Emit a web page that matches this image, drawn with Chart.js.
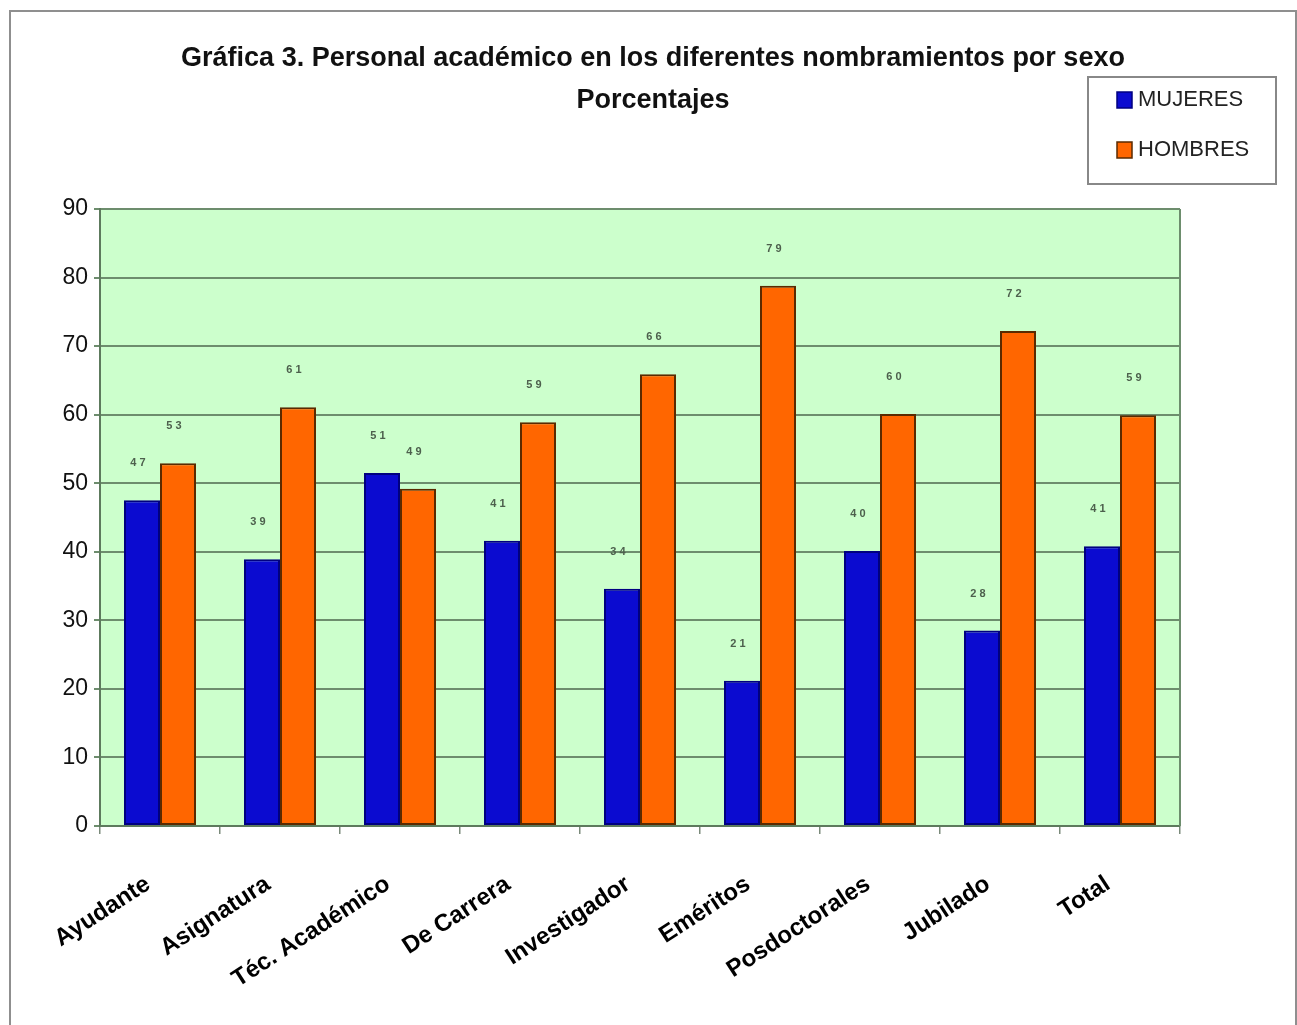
<!DOCTYPE html>
<html>
<head>
<meta charset="utf-8">
<script src="https://cdn.jsdelivr.net/npm/chart.js@4.4.1/dist/chart.umd.min.js"></script>
<style>
  html, body { margin: 0; padding: 0; background: #fff; }
  #wrap { width: 1297px; height: 1025px; position: relative; }
</style>
</head>
<body>
<div id="wrap"><canvas id="canvas" width="1297" height="1025"></canvas></div>
<script>
var titulo = 'Gráfica 3. Personal académico en los diferentes nombramientos por sexo';
var subtitulo = 'Porcentajes';
var categorias = ['Ayudante', 'Asignatura', 'Téc. Académico', 'De Carrera', 'Investigador', 'Eméritos', 'Posdoctorales', 'Jubilado', 'Total'];
var mujeres = [47.5, 38.9, 51.5, 41.6, 34.6, 21.2, 40.1, 28.5, 40.8];
var hombres = [52.9, 61.1, 49.2, 58.9, 65.9, 78.8, 60.1, 72.2, 59.9];
var etiquetasMujeres = ['47', '39', '51', '41', '34', '21', '40', '28', '41'];
var etiquetasHombres = ['53', '61', '49', '59', '66', '79', '60', '72', '59'];
var ticksY = [0, 10, 20, 30, 40, 50, 60, 70, 80, 90];

// fondo verde, marco, titulo, leyenda y etiquetas de valores
var decoracion = {
  id: 'decoracion',
  beforeDraw: function(chart) {
    var ctx = chart.ctx, a = chart.chartArea;
    ctx.save();
    ctx.fillStyle = '#fff';
    ctx.fillRect(0, 0, chart.width, chart.height);
    ctx.strokeStyle = '#8f8f8f';
    ctx.lineWidth = 2;
    ctx.strokeRect(10, 11, 1286, 1040);
    ctx.fillStyle = '#ccffcc';
    ctx.fillRect(a.left, a.top, a.right - a.left, a.bottom - a.top);
    ctx.restore();
  },
  afterDraw: function(chart) {
    var ctx = chart.ctx, a = chart.chartArea;
    ctx.save();
    ctx.strokeStyle = '#6d8d6d';
    ctx.lineWidth = 2;
    ctx.beginPath();
    ctx.moveTo(a.right, a.top);
    ctx.lineTo(a.right, a.bottom);
    ctx.stroke();
    // titulo
    ctx.fillStyle = '#111';
    ctx.textAlign = 'center';
    ctx.textBaseline = 'middle';
    ctx.font = 'bold 27px "Liberation Sans", Arial';
    ctx.fillText(titulo, 653, 59);
    ctx.fillText(subtitulo, 653, 101);
    // leyenda
    ctx.textAlign = 'left';
    ctx.fillStyle = '#fff';
    ctx.fillRect(1088, 77, 188, 107);
    ctx.strokeStyle = '#888';
    ctx.lineWidth = 2;
    ctx.strokeRect(1088, 77, 188, 107);
    ctx.font = '22px "Liberation Sans", Arial';
    chart.data.datasets.forEach(function(ds, i) {
      var y = 100 + i * 50;
      ctx.fillStyle = ds.backgroundColor;
      ctx.fillRect(1117, y - 8, 15, 16);
      ctx.strokeStyle = ds.borderColor;
      ctx.lineWidth = 1.5;
      ctx.strokeRect(1117, y - 8, 15, 16);
      ctx.fillStyle = '#222';
      ctx.fillText(ds.label, 1138, y);
    });
    // etiquetas de valores
    ctx.font = 'bold 11px "Liberation Sans", Arial';
    ctx.fillStyle = '#4d604d';
    ctx.textAlign = 'center';
    var textos = [etiquetasMujeres, etiquetasHombres];
    chart.data.datasets.forEach(function(ds, i) {
      chart.getDatasetMeta(i).data.forEach(function(bar, j) {
        ctx.fillText(textos[i][j].split('').join(' '), bar.x - 4, bar.y - 37);
      });
    });
    ctx.restore();
  }
};

var data = {
  labels: categorias,
  datasets: [{
    label: 'MUJERES',
    data: mujeres,
    backgroundColor: '#0b0bd0',
    borderColor: '#000080',
    borderWidth: 2,
    borderSkipped: false
  }, {
    label: 'HOMBRES',
    data: hombres,
    backgroundColor: '#ff6600',
    borderColor: '#5a2a00',
    borderWidth: 2,
    borderSkipped: false
  }]
};

var ctx = document.getElementById('canvas');
window.myBar = new Chart(ctx, {
  type: 'bar',
  data: data,
  plugins: [decoracion],
  options: {
    responsive: false,
    animation: false,
    devicePixelRatio: 1,
    layout: { padding: { left: 0, right: 117, top: 209, bottom: 0 } },
    datasets: { bar: { categoryPercentage: 0.6, barPercentage: 1.0 } },
    plugins: {
      legend: { display: false },
      tooltip: { enabled: false },
      title: { display: false }
    },
    scales: {
      x: {
        afterFit: function(scale) { scale.height = 199; },
        grid: { offset: true, drawOnChartArea: false, drawTicks: true, tickLength: 8, color: '#7a8a7a', lineWidth: 1.5 },
        border: { color: '#5d7a5d', width: 2 },
        ticks: {
          minRotation: 33,
          maxRotation: 33,
          padding: 36,
          labelOffset: -12,
          color: '#000',
          font: { family: '"Liberation Sans", Arial', size: 24, weight: 'bold' }
        }
      },
      y: {
        min: 0,
        max: 90,
        afterFit: function(scale) { scale.width = 100; },
        afterBuildTicks: function(scale) { scale.ticks = ticksY.map(function(v) { return { value: v }; }); },
        grid: { color: '#6d8d6d', lineWidth: 2, tickLength: 6 },
        border: { color: '#5d7a5d', width: 2 },
        ticks: {
          padding: 6,
          color: '#111',
          font: { family: '"Liberation Sans", Arial', size: 23 }
        }
      }
    }
  }
});
</script>
</body>
</html>
